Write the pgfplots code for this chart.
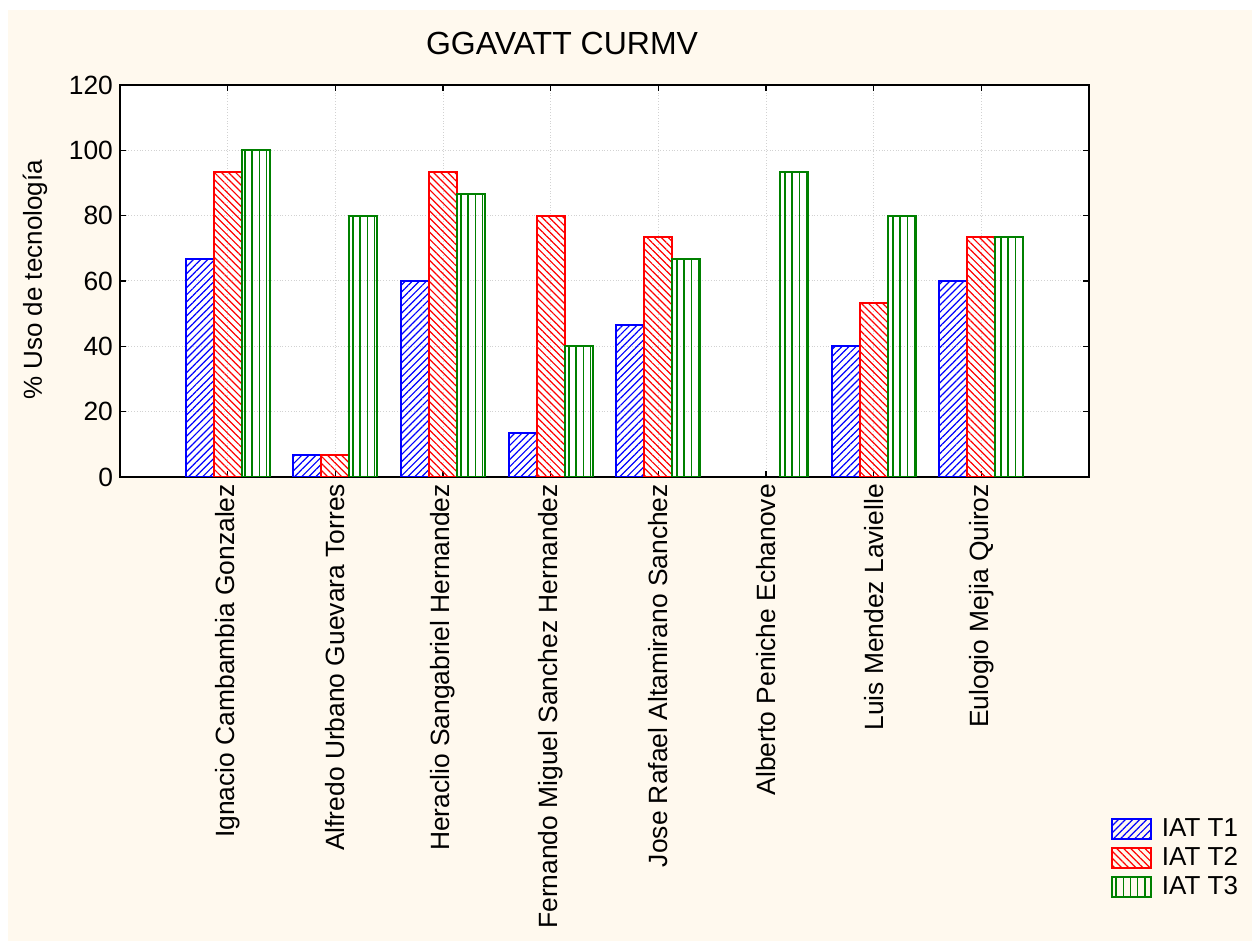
\documentclass[border=0pt]{standalone}
\usepackage{fontspec}
\setmainfont{Liberation Sans}
\usepackage{pgfplots}
\usepackage{pgfplotstable}
\pgfplotsset{compat=1.18}
\usetikzlibrary{patterns.meta}
\definecolor{bgcream}{HTML}{FFF9EE}
\definecolor{gblue}{HTML}{0000FF}
\definecolor{gred}{HTML}{FF0000}
\definecolor{ggreen}{HTML}{008000}

\pgfplotstableread{
x t1 t2 t3
0 66.67 93.33 100
1 6.67 6.67 80
2 60 93.33 86.67
3 13.33 80 40
4 46.67 73.33 66.67
5 nan nan 93.33
6 40 53.33 80
7 60 73.33 73.33
}\datatable

\begin{document}
\begin{tikzpicture}
\fill[white] (0,0) rectangle (626pt,470.5pt);
\fill[bgcream] (4pt,0) rectangle (626pt,465.5pt);
\begin{axis}[
  at={(60pt,232pt)}, anchor=south west,
  scale only axis, width=484.5pt, height=196pt,
  xmin=-1, xmax=8, ymin=0, ymax=120,
  ytick={0,20,...,120},
  xtick={0,...,7},
  xticklabels={Ignacio Cambambia Gonzalez, Alfredo Urbano Guevara Torres, Heraclio Sangabriel Hernandez, Fernando Miguel Sanchez Hernandez, Jose Rafael Altamirano Sanchez, Alberto Peniche Echanove, Luis Mendez Lavielle, Eulogio Mejia Quiroz},
  xticklabel style={rotate=90, anchor=east, font=\fontsize{13.2}{15}\selectfont},
  yticklabel style={font=\fontsize{13.2}{15}\selectfont},
  /pgf/number format/assume math mode=true,
  unbounded coords=jump,
  ybar=0pt, bar width=14pt,
  axis background/.style={fill=white},
  grid=major, grid style={densely dotted, gray!35, line width=0.5pt},
  axis line style={line width=1pt, black},
  tick style={black, line width=0.6pt},
  major tick length=3pt,
  tick align=inside,
  legend style={at={(rel axis cs:1.016,-0.85)}, anchor=north west, draw=none, fill=none,
     font=\fontsize{13}{15}\selectfont, row sep=0pt, nodes={inner sep=2pt},
     /tikz/every odd column/.append style={column sep=3pt}},
  legend cell align=left,
  legend image code/.code={\draw[#1] (0pt,-5pt) rectangle (19.5pt,5pt);},
]
\addplot[draw=gblue, line width=1pt, pattern={Lines[angle=45,distance=2.5pt,line width=0.6pt]}, pattern color=gblue] table[x=x,y=t1] {\datatable};
\addplot[draw=gred, line width=1pt, pattern={Lines[angle=-45,distance=2.5pt,line width=0.6pt]}, pattern color=gred] table[x=x,y=t2] {\datatable};
\addplot[draw=ggreen, line width=1pt, pattern={Lines[angle=90,distance=3.6pt,line width=0.7pt]}, pattern color=ggreen] table[x=x,y=t3] {\datatable};
\legend{IAT T1, IAT T2, IAT T3}
\end{axis}
\node[font=\fontsize{16}{19}\selectfont] at (281pt,448.5pt) {GGAVATT CURMV};
\node[rotate=90, font=\fontsize{13}{15}\selectfont] at (17.5pt,330.5pt) {\% Uso de tecnología};
\end{tikzpicture}
\end{document}
